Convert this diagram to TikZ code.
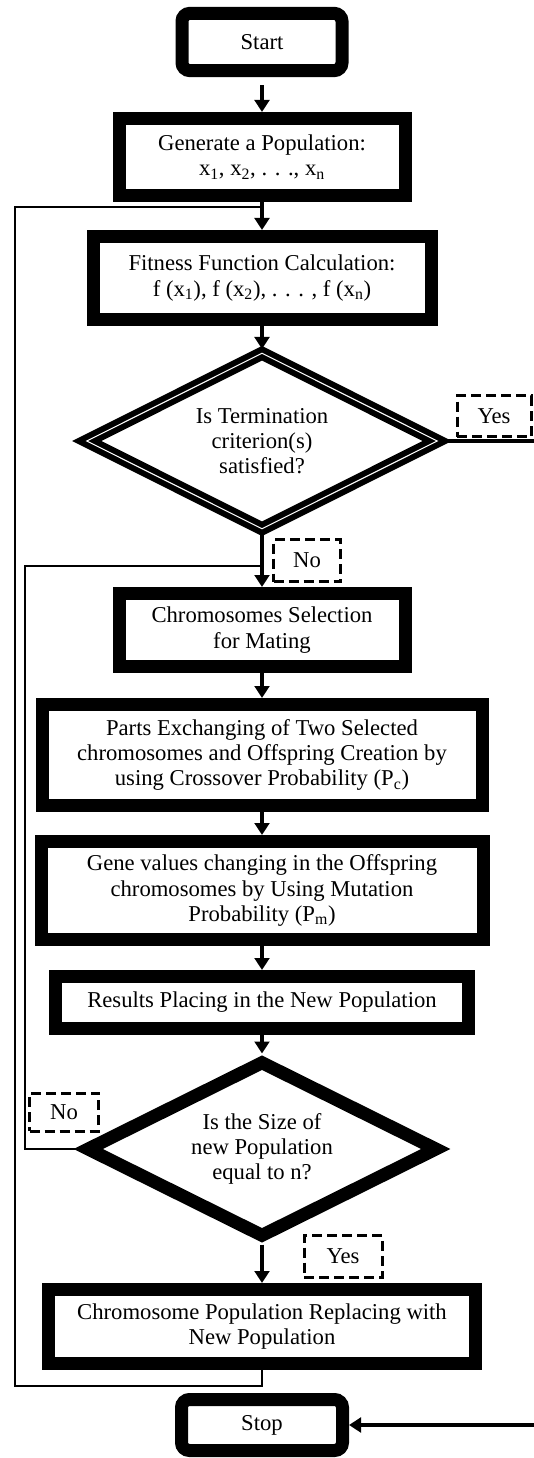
\documentclass[tikz,border=0pt]{standalone}
\usepackage{fontspec}
\setmainfont{Liberation Serif}
\usepackage{tikz}
\usetikzlibrary{shapes.geometric,arrows.meta,calc,positioning}
\tikzset{
    box/.style ={rectangle, draw, line width=9.75pt, fill=white, align=center, inner sep=2pt,
        font=\fontsize{17}{19}\selectfont},
    term/.style ={box, rounded corners=6pt},
    decision/.style={diamond, draw, line width=9.75pt, fill=white, align=center, inner sep=0pt,
        aspect=2, minimum width=264.75pt, minimum height=133.5pt, font=\fontsize{17}{19}\selectfont},
    tag/.style = {rectangle, draw, line width=2.25pt, dash pattern=on 7.5pt off 3.75pt, fill=white,
        inner sep=1pt, font=\fontsize{17}{19}\selectfont},
    back/.style={-, line width=2pt}
}

\begin{document}
\begin{tikzpicture}[x=0.75pt,y=-0.75pt,-{Triangle[width=11pt,length=9pt]},line width=3pt]
    \useasboundingbox (0,0) rectangle (534,1458);

    \node (1) [term, minimum width=120pt, minimum height=43pt] at (262,42) {Start};
    \node (2) [box, minimum width=214.5pt, minimum height=57.75pt] at (262,157)
        {Generate a Population:\\ x\textsubscript{1}, x\textsubscript{2}, . . ., x\textsubscript{n}};
    \node (3) [box, minimum width=253.5pt, minimum height=62.25pt] at (262,278)
        {Fitness Function Calculation:\\ f (x\textsubscript{1}), f (x\textsubscript{2}), . . . , f (x\textsubscript{n})};
    \node (4) [decision, double, double distance=0.8pt, line width=4.5pt] at (262,441)
        {Is Termination\\ criterion(s)\\ satisfied?};
    \node (5) [box, minimum width=214.5pt, minimum height=54.75pt] at (262,630)
        {Chromosomes Selection\\ for Mating};
    \node (6) [box, minimum width=330pt, minimum height=75.75pt] at (262,755)
        {Parts Exchanging of Two Selected\\ chromosomes and Offspring Creation by\\ using Crossover Probability (P\textsubscript{c})};
    \node (7) [box, minimum width=331.5pt, minimum height=73.5pt] at (262,890.5)
        {Gene values changing in the Offspring\\ chromosomes by Using Mutation\\ Probability (P\textsubscript{m})};
    \node (8) [box, minimum width=309.75pt, minimum height=39pt] at (262,1002.5)
        {Results Placing in the New Population};
    \node (9) [decision] at (262,1149)
        {Is the Size of\\ new Population\\ equal to n?};
    \node (10) [box, minimum width=320.25pt, minimum height=55.5pt] at (262,1326.5)
        {Chromosome Population Replacing with\\ New Population};
    \node (11) [term, minimum width=120.75pt, minimum height=38.25pt] at (262,1425) {Stop};

    \coordinate (j1) at (262,207);
    \coordinate (j2) at (262,566);

    \path (1) edge[shorten <=6pt] (2);
    \path (2) edge (3);
    \path (3) edge (4);
    \path (4) edge (5);
    \path (5) edge (6);
    \path (6) edge (7);
    \path (7) edge (8);
    \path (8) edge (9);
    \path (9) edge (10);

    % loops back
    \draw[back] (10.south) |- (15,1386) |- (j1);
    \draw[back] (9.west) -- (25,1149) |- (j2);
    \draw (4.east) -- ++(150,0) |- (11.east);

    \node (yes1) [tag, minimum width=55.5pt, minimum height=30.75pt] at (494,416) {Yes};
    \node (no1) [tag, minimum width=50.25pt, minimum height=31.5pt] at (307,560.5) {No};
    \node (no2) [tag, minimum width=51.75pt, minimum height=28.5pt] at (64,1112) {No};
    \node (yes2) [tag, minimum width=58.5pt, minimum height=31.5pt] at (343,1256.5) {Yes};
\end{tikzpicture}
\end{document}
